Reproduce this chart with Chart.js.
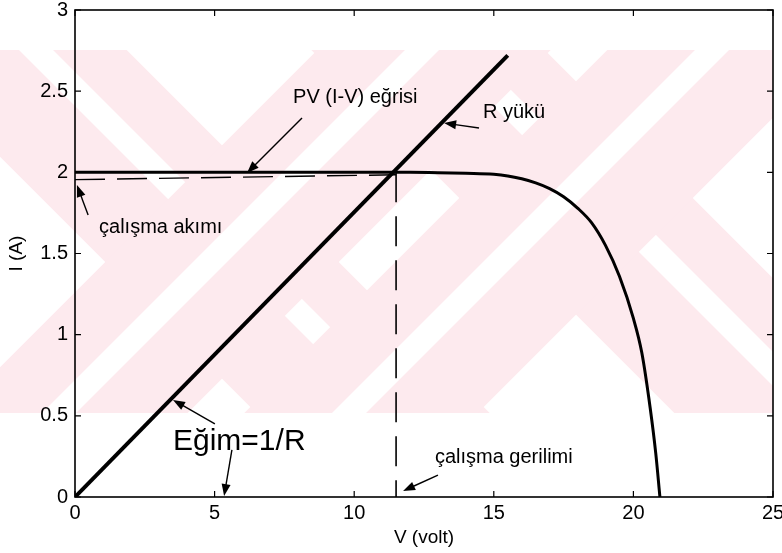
<!DOCTYPE html>
<html><head><meta charset="utf-8">
<script src="https://cdn.jsdelivr.net/npm/chart.js@4.4.1/dist/chart.umd.min.js"></script>
<style>html,body{margin:0;padding:0;background:#fff;overflow:hidden}</style>
</head><body>
<canvas id="c" width="782" height="553"></canvas>
<script>
// ---- data ----
const xTicks = [0, 5, 10, 15, 20, 25];
const yTicks = [0, 0.5, 1, 1.5, 2, 2.5, 3];
const pvV = [0, 5, 10, 12, 13, 14, 15, 15.5, 16, 16.5, 17, 17.5, 18, 18.5, 19, 19.5, 20, 20.3, 20.6, 20.8, 20.95];
const pvI = [2.0, 2.0, 2.0, 2.0, 1.998, 1.994, 1.988, 1.978, 1.96, 1.935, 1.90, 1.85, 1.78, 1.69, 1.55, 1.36, 1.10, 0.89, 0.55, 0.27, 0];
const loadV = [0, 15.5];
const loadI = [0, 2.72];
const opCurrentV = [0, 11.5];
const opCurrentI = [1.955, 1.985];
const opVoltageV = [11.5, 11.5];
const opVoltageI = [2.0, 0];
const labelTexts = ['PV (I-V) eğrisi', 'R yükü', 'çalışma akımı', 'Eğim=1/R', 'çalışma gerilimi'];
const labelV = [7.81, 14.61, 0.86, 3.51, 12.89];
const labelI = [2.427, 2.335, 1.626, 0.29, 0.21];
const arrowTailV = [8.13, 14.47, 0.47, 5.01, 5.62, 13.0];
const arrowTailI = [2.335, 2.273, 1.737, 0.45, 0.29, 0.135];
const arrowHeadV = [6.16, 13.22, 0.07, 3.51, 5.34, 11.75];
const arrowHeadI = [1.996, 2.304, 1.922, 0.598, 0.006, 0.037];

const pts = (xs, ys) => xs.map((x, i) => ({x: x, y: ys[i]}));
const FONT = 'Liberation Sans, Arial, sans-serif';
const PINK = 'rgb(253,234,238)';

// background watermark (decoration only), drawn before scales
const watermark = {
  id: 'watermark',
  beforeDraw(chart) {
    const ctx = chart.ctx;
    ctx.save();
    ctx.beginPath();
    ctx.rect(0, 50, 773, 363);
    ctx.clip();
    const centers = [[222, 262], [576, 198]];
    const L = 500;
    centers.forEach(([cx, cy]) => {
      ctx.strokeStyle = PINK;
      ctx.lineWidth = 165;
      ctx.beginPath(); ctx.moveTo(cx - L, cy - L); ctx.lineTo(cx + L, cy + L); ctx.stroke();
      ctx.strokeStyle = '#ffffff';
      ctx.lineWidth = 24;
      ctx.beginPath(); ctx.moveTo(cx - L + 13, cy - L - 13); ctx.lineTo(cx + L + 13, cy + L - 13); ctx.stroke();
    });
    centers.forEach(([cx, cy]) => {
      ctx.strokeStyle = PINK;
      ctx.lineWidth = 165;
      ctx.beginPath(); ctx.moveTo(cx - L, cy + L); ctx.lineTo(cx + L, cy - L); ctx.stroke();
      ctx.strokeStyle = '#ffffff';
      ctx.lineWidth = 24;
      ctx.beginPath(); ctx.moveTo(cx - L - 6, cy + L - 6); ctx.lineTo(cx + L - 6, cy - L - 6); ctx.stroke();
    });
    ctx.restore();
  }
};

// frame, inward ticks, annotations
const decor = {
  id: 'decor',
  afterDatasetsDraw(chart) {
    const ctx = chart.ctx;
    const xs = chart.scales.x, ys = chart.scales.y;
    const a = chart.chartArea;
    ctx.save();
    ctx.strokeStyle = '#000';
    ctx.lineWidth = 1.6;
    ctx.strokeRect(a.left, a.top, a.right - a.left, a.bottom - a.top);
    ctx.lineWidth = 1.2;
    const tl = 6;
    xTicks.forEach(v => {
      const px = xs.getPixelForValue(v);
      ctx.beginPath();
      ctx.moveTo(px, a.bottom); ctx.lineTo(px, a.bottom - tl);
      ctx.moveTo(px, a.top); ctx.lineTo(px, a.top + tl);
      ctx.stroke();
    });
    yTicks.forEach(v => {
      const py = ys.getPixelForValue(v);
      ctx.beginPath();
      ctx.moveTo(a.left, py); ctx.lineTo(a.left + tl, py);
      ctx.moveTo(a.right, py); ctx.lineTo(a.right - tl, py);
      ctx.stroke();
    });
    // arrows
    ctx.fillStyle = '#000';
    ctx.lineWidth = 1.4;
    arrowTailV.forEach((v, i) => {
      const x0 = xs.getPixelForValue(v), y0 = ys.getPixelForValue(arrowTailI[i]);
      const x1 = xs.getPixelForValue(arrowHeadV[i]), y1 = ys.getPixelForValue(arrowHeadI[i]);
      const ang = Math.atan2(y1 - y0, x1 - x0);
      const hl = 12, hw = 4.5;
      ctx.beginPath();
      ctx.moveTo(x0, y0);
      ctx.lineTo(x1 - Math.cos(ang) * hl * 0.8, y1 - Math.sin(ang) * hl * 0.8);
      ctx.stroke();
      ctx.beginPath();
      ctx.moveTo(x1, y1);
      ctx.lineTo(x1 - Math.cos(ang) * hl - Math.sin(ang) * hw, y1 - Math.sin(ang) * hl + Math.cos(ang) * hw);
      ctx.lineTo(x1 - Math.cos(ang) * hl + Math.sin(ang) * hw, y1 - Math.sin(ang) * hl - Math.cos(ang) * hw);
      ctx.closePath();
      ctx.fill();
    });
    // labels
    ctx.textAlign = 'left';
    ctx.textBaseline = 'alphabetic';
    labelTexts.forEach((t, i) => {
      ctx.font = (i === 3 ? '30px ' : '20px ') + FONT;
      ctx.fillText(t, xs.getPixelForValue(labelV[i]), ys.getPixelForValue(labelI[i]));
    });
    ctx.restore();
  }
};

new Chart(document.getElementById('c'), {
  type: 'scatter',
  data: {
    datasets: [
      {label: 'PV (I-V) eğrisi', data: pts(pvV, pvI), showLine: true, borderColor: '#000', borderWidth: 3,
       pointRadius: 0, cubicInterpolationMode: 'monotone', fill: false},
      {label: 'R yükü', data: pts(loadV, loadI), showLine: true, borderColor: '#000', borderWidth: 4,
       pointRadius: 0, fill: false},
      {label: 'çalışma akımı', data: pts(opCurrentV, opCurrentI), showLine: true, borderColor: '#000', borderWidth: 1.4,
       borderDash: [30, 12], pointRadius: 0, fill: false},
      {label: 'çalışma gerilimi', data: pts(opVoltageV, opVoltageI), showLine: true, borderColor: '#000', borderWidth: 1.6,
       borderDash: [30, 14], pointRadius: 0, fill: false}
    ]
  },
  options: {
    responsive: false,
    animation: false,
    devicePixelRatio: 1,
    layout: {padding: {left: 0, right: 9, top: 10, bottom: 0}},
    plugins: {legend: {display: false}, tooltip: {enabled: false}},
    scales: {
      x: {
        type: 'linear', min: xTicks[0], max: xTicks[xTicks.length - 1], position: 'bottom',
        afterFit: s => { s.height = 56; s.paddingLeft = 0; s.paddingRight = 0; },
        grid: {display: false, drawTicks: false},
        border: {display: false},
        ticks: {stepSize: 5, font: {family: FONT, size: 20}, color: '#000', padding: 4, maxRotation: 0, autoSkip: false,
                callback: v => xTicks.includes(v) ? String(v) : ''},
        title: {display: true, text: 'V (volt)', color: '#000', font: {family: FONT, size: 19}, padding: {top: 0, bottom: 4}}
      },
      y: {
        type: 'linear', min: yTicks[0], max: yTicks[yTicks.length - 1], position: 'left',
        afterFit: s => { s.width = 75; s.paddingTop = 0; s.paddingBottom = 0; },
        grid: {display: false, drawTicks: false},
        border: {display: false},
        ticks: {stepSize: 0.5, font: {family: FONT, size: 20}, color: '#000', padding: 7, autoSkip: false,
                callback: v => yTicks.includes(v) ? String(v) : ''},
        title: {display: true, text: 'I (A)', color: '#000', font: {family: FONT, size: 19}, padding: {top: 5, bottom: 0}}
      }
    }
  },
  plugins: [watermark, decor]
});
</script>
</body></html>
